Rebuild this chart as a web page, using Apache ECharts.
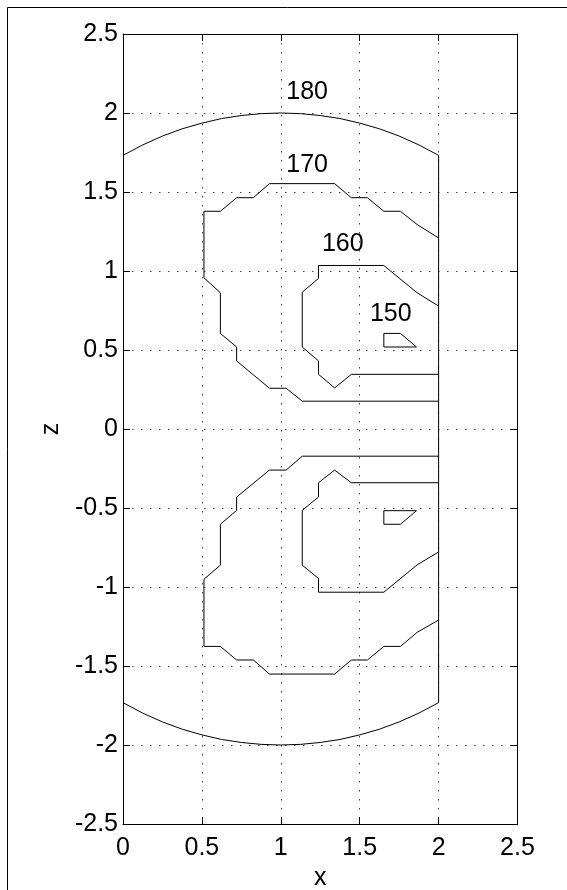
<!DOCTYPE html>
<html>
<head>
<meta charset="utf-8">
<script src="https://cdn.jsdelivr.net/npm/echarts@6/dist/echarts.min.js"></script>
<style>
html,body{margin:0;padding:0;background:#fff;}
#chart{width:567px;height:890px;}
</style>
</head>
<body>
<div id="chart"></div>
<script>
// ---- data ----
var xTicks = [0, 0.5, 1, 1.5, 2, 2.5];
var zTicks = [-2.5, -2, -1.5, -1, -0.5, 0, 0.5, 1, 1.5, 2, 2.5];

var c180UpperX = [0, 0.125, 0.25, 0.375, 0.5, 0.625, 0.75, 0.875, 1.0, 1.125, 1.25, 1.375, 1.5, 1.625, 1.75, 1.875, 2.0];
var c180UpperZ = [1.732, 1.798, 1.854, 1.900, 1.936, 1.965, 1.984, 1.996, 2.0, 1.996, 1.984, 1.965, 1.936, 1.900, 1.854, 1.798, 1.732];
var c180LowerX = [0, 0.125, 0.25, 0.375, 0.5, 0.625, 0.75, 0.875, 1.0, 1.125, 1.25, 1.375, 1.5, 1.625, 1.75, 1.875, 2.0];
var c180LowerZ = [-1.732, -1.798, -1.854, -1.900, -1.936, -1.965, -1.984, -1.996, -2.0, -1.996, -1.984, -1.965, -1.936, -1.900, -1.854, -1.798, -1.732];
var edgeX = [2.0, 2.0];
var edgeZ = [1.732, -1.732];

var c170UpperX = [2.0, 1.864, 1.758, 1.653, 1.549, 1.447, 1.341, 0.928, 0.826, 0.720, 0.617, 0.513, 0.513, 0.617, 0.617, 0.720, 0.720, 0.928, 1.034, 1.136, 2.0];
var c170UpperZ = [1.209, 1.294, 1.378, 1.378, 1.464, 1.464, 1.553, 1.553, 1.464, 1.464, 1.378, 1.378, 0.957, 0.862, 0.605, 0.519, 0.431, 0.258, 0.258, 0.176, 0.176];
var c170LowerX = [2.0, 1.864, 1.758, 1.653, 1.549, 1.447, 1.341, 0.928, 0.826, 0.720, 0.617, 0.513, 0.513, 0.617, 0.617, 0.720, 0.720, 0.928, 1.034, 1.136, 2.0];
var c170LowerZ = [-1.209, -1.287, -1.376, -1.376, -1.462, -1.462, -1.551, -1.551, -1.462, -1.462, -1.376, -1.376, -0.951, -0.862, -0.603, -0.515, -0.431, -0.260, -0.260, -0.172, -0.172];

var c160UpperX = [2.0, 1.864, 1.653, 1.239, 1.239, 1.136, 1.136, 1.239, 1.239, 1.341, 1.447, 2.0];
var c160UpperZ = [0.778, 0.862, 1.035, 1.035, 0.953, 0.866, 0.519, 0.431, 0.346, 0.260, 0.346, 0.346];
var c160LowerX = [2.0, 1.864, 1.653, 1.239, 1.239, 1.136, 1.136, 1.239, 1.239, 1.341, 1.447, 2.0];
var c160LowerZ = [-0.778, -0.860, -1.033, -1.033, -0.946, -0.862, -0.515, -0.430, -0.340, -0.260, -0.340, -0.340];

var c150UpperX = [1.653, 1.758, 1.860, 1.653, 1.653];
var c150UpperZ = [0.605, 0.605, 0.519, 0.519, 0.605];
var c150LowerX = [1.653, 1.860, 1.758, 1.653, 1.653];
var c150LowerZ = [-0.517, -0.517, -0.603, -0.603, -0.517];

var labelX = [1.167, 1.167, 1.393, 1.697];
var labelZ = [2.133, 1.671, 1.171, 0.725];
var labelText = ['180', '170', '160', '150'];

// ---- build ----
function pairs(xs, zs) { return xs.map(function (x, i) { return [x, zs[i]]; }); }
var FONT = '"Liberation Sans", Arial, Helvetica, sans-serif';

function lineSeries(xs, zs) {
  return {
    type: 'line', data: pairs(xs, zs), showSymbol: false, symbol: 'none',
    smooth: false, silent: true, animation: false,
    xAxisIndex: 0, yAxisIndex: 0,
    lineStyle: { color: '#000', width: 1 }, z: 3
  };
}

var chart = echarts.init(document.getElementById('chart'), null, { renderer: 'canvas' });

var gridLine = { show: true, lineStyle: { color: '#444', width: 1, type: [1.5, 7.5] } };
var tick = { show: true, inside: true, length: 7, lineStyle: { color: '#000', width: 1 } };
var axLine = { show: true, onZero: false, lineStyle: { color: '#000', width: 1 } };

chart.setOption({
  backgroundColor: '#fff',
  animation: false,
  textStyle: { fontFamily: FONT },
  graphic: [{
    type: 'rect', silent: true, z: 100,
    shape: { x: 7.5, y: 7.5, width: 700, height: 1000 },
    style: { fill: 'none', stroke: '#000', lineWidth: 1 }
  }],
  grid: { left: 123, top: 34, right: 49.5, bottom: 66, containLabel: false, outerBoundsMode: 'none' },
  xAxis: [{
    type: 'value', min: 0, max: 2.5, interval: 0.5, position: 'bottom',
    name: 'x', nameLocation: 'middle', nameGap: 42,
    nameTextStyle: { fontSize: 25, color: '#000', fontFamily: FONT },
    axisLine: axLine, axisTick: tick, splitLine: gridLine,
    axisLabel: { show: true, margin: 12, fontSize: 25, color: '#000', fontFamily: FONT,
      formatter: function (v) { return xTicks.indexOf(v) >= 0 ? String(v) : ''; } }
  }, {
    type: 'value', min: 0, max: 2.5, interval: 0.5, position: 'top',
    axisLine: axLine, axisTick: tick, splitLine: { show: false }, axisLabel: { show: false }
  }],
  yAxis: [{
    type: 'value', min: -2.5, max: 2.5, interval: 0.5, position: 'left',
    name: 'z', nameLocation: 'middle', nameGap: 53, nameRotate: 90,
    nameTextStyle: { fontSize: 25, color: '#000', fontFamily: FONT },
    axisLine: axLine, axisTick: tick, splitLine: gridLine,
    axisLabel: { show: true, margin: 5, fontSize: 25, color: '#000', fontFamily: FONT,
      formatter: function (v) { return zTicks.indexOf(v) >= 0 ? String(v) : ''; } }
  }, {
    type: 'value', min: -2.5, max: 2.5, interval: 0.5, position: 'right',
    axisLine: axLine, axisTick: tick, splitLine: { show: false }, axisLabel: { show: false }
  }],
  series: [
    lineSeries(c180UpperX, c180UpperZ),
    lineSeries(c180LowerX, c180LowerZ),
    lineSeries(edgeX, edgeZ),
    lineSeries(c170UpperX, c170UpperZ),
    lineSeries(c170LowerX, c170LowerZ),
    lineSeries(c160UpperX, c160UpperZ),
    lineSeries(c160LowerX, c160LowerZ),
    lineSeries(c150UpperX, c150UpperZ),
    lineSeries(c150LowerX, c150LowerZ),
    {
      type: 'scatter', silent: true, animation: false,
      data: labelX.map(function (x, i) { return [x, labelZ[i], labelText[i]]; }),
      symbolSize: 0, itemStyle: { color: '#000', opacity: 1 }, z: 5,
      label: {
        show: true, position: [0, 0], align: 'center', verticalAlign: 'middle',
        fontSize: 25, color: '#000', opacity: 1, textBorderWidth: 0, fontFamily: FONT,
        formatter: function (p) { return p.value[2]; }
      }
    }
  ]
});
</script>
</body>
</html>
